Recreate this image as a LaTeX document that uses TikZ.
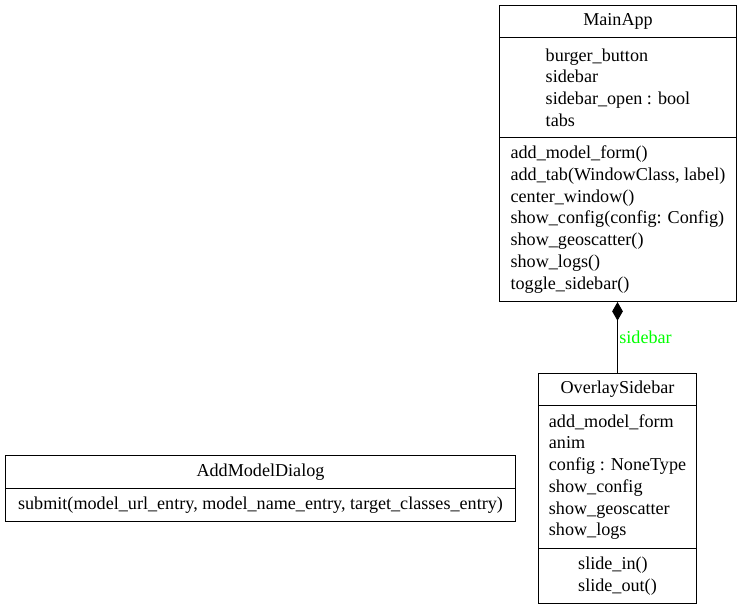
\documentclass[tikz,border=0pt]{standalone}
\usepackage{fontspec}
\setmainfont{Liberation Serif}
\usetikzlibrary{arrows.meta}

\begin{document}
\begin{tikzpicture}[x=0.75pt, y=-0.75pt,
  font=\fontsize{13.6}{16.3}\selectfont,
  part/.style={draw, line width=0.75pt, anchor=north west, align=left, inner sep=0pt},
  compose/.style={line width=0.75pt, -{Diamond[length=14pt, width=8pt]}}]

\useasboundingbox (0,0) rectangle (741,609);

% --- MainApp ---
\node[part, minimum width=177.75pt, minimum height=24pt] (mainT) at (499,5) {MainApp};
\node[part, minimum width=177.75pt, minimum height=75pt] (mainA) at (499,37)
  {burger\_button\\sidebar\\sidebar\_open : bool\\tabs};
\node[part, minimum width=177.75pt, minimum height=123pt] (mainM) at (499,137)
  {add\_model\_form()\\add\_tab(WindowClass, label)\\center\_window()\\show\_config(config: Config)\\show\_geoscatter()\\show\_logs()\\toggle\_sidebar()};

% --- OverlaySidebar ---
\node[part, minimum width=118.5pt, minimum height=24pt] (sideT) at (538,373) {OverlaySidebar};
\node[part, minimum width=118.5pt, minimum height=107.25pt] (sideA) at (538,405)
  {add\_model\_form\\anim\\config : NoneType\\show\_config\\show\_geoscatter\\show\_logs};
\node[part, minimum width=118.5pt, minimum height=41.25pt] (sideM) at (538,548)
  {slide\_in()\\slide\_out()};

% --- AddModelDialog ---
\node[part, minimum width=382.5pt, minimum height=24.75pt] (dlgT) at (5,455) {AddModelDialog};
\node[part, minimum width=382.5pt, minimum height=24.75pt] (dlgM) at (5,488)
  {submit(model\_url\_entry, model\_name\_entry, target\_classes\_entry)};

% composition
\draw[compose] (sideT.north) -- node[right, inner sep=1pt, text=green] {sidebar} (sideT.north |- mainM.south);

\end{tikzpicture}
\end{document}
